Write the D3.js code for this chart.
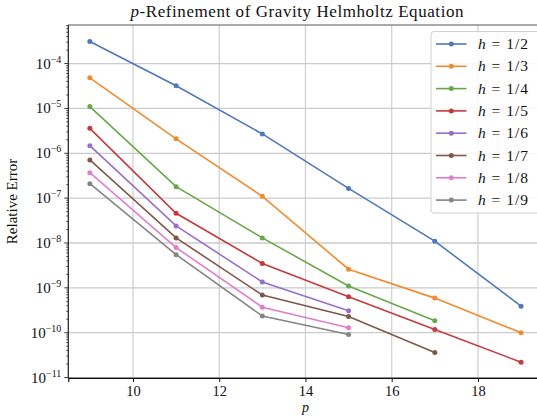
<!DOCTYPE html>
<html>
<head>
<meta charset="utf-8">
<script src="https://cdn.jsdelivr.net/npm/d3@7"></script>
<style>
  html, body { margin: 0; padding: 0; background: #fff; }
  svg { display: block; }
  text { font-family: "Liberation Serif", "DejaVu Serif", serif; fill: #111; }
</style>
</head>
<body>
<svg id="chart" width="537" height="417"></svg>
<script>
// Polynomial degree p for each refinement level
const pValues = [9, 11, 13, 15, 17, 19];

// Relative error per mesh size h
const errH2 = [3.1e-4, 3.2e-5, 2.7e-6, 1.65e-7, 1.1e-8, 3.9e-10];
const errH3 = [4.8e-5, 2.1e-6, 1.1e-7, 2.6e-9, 5.9e-10, 1.0e-10];
const errH4 = [1.1e-5, 1.8e-7, 1.3e-8, 1.1e-9, 1.85e-10];
const errH5 = [3.6e-6, 4.6e-8, 3.5e-9, 6.3e-10, 1.18e-10, 2.2e-11];
const errH6 = [1.48e-6, 2.4e-8, 1.35e-9, 3.1e-10];
const errH7 = [7.1e-7, 1.3e-8, 6.9e-10, 2.3e-10, 3.6e-11];
const errH8 = [3.7e-7, 7.9e-9, 3.7e-10, 1.29e-10];
const errH9 = [2.1e-7, 5.5e-9, 2.35e-10, 9.1e-11];

const seriesLabels = ["1/2", "1/3", "1/4", "1/5", "1/6", "1/7", "1/8", "1/9"];
const seriesColors = ["#4f78bd", "#f18b2f", "#67a84a", "#c43a3e", "#9470cc", "#80584b", "#df7fcb", "#858585"];
const seriesValues = [errH2, errH3, errH4, errH5, errH6, errH7, errH8, errH9];

const xTicks = [10, 12, 14, 16, 18];
const yExponents = [-11, -10, -9, -8, -7, -6, -5, -4];

const series = seriesLabels.map((lab, i) => ({
  label: lab,
  color: seriesColors[i],
  points: seriesValues[i].map((v, j) => ({ p: pValues[j], e: v }))
}));

const svg = d3.select("#chart");
const plotLeft = 68.3, plotRight = 542.6, plotTop = 25, plotBottom = 378;

const x = d3.scaleLinear().domain([8.5, 19.5]).range([plotLeft, plotRight]);
const y = d3.scaleLog().domain([Math.pow(10, -11.01), Math.pow(10, -3.14)]).range([plotBottom, plotTop]);

// grid
const grid = svg.append("g");
grid.selectAll("line.gx").data(xTicks).join("line")
  .attr("x1", d => x(d)).attr("x2", d => x(d))
  .attr("y1", plotTop).attr("y2", plotBottom)
  .attr("stroke", "#d2d2d2").attr("stroke-width", 1.3);
grid.selectAll("line.gy").data(yExponents).join("line")
  .attr("x1", plotLeft).attr("x2", plotRight)
  .attr("y1", d => y(Math.pow(10, d))).attr("y2", d => y(Math.pow(10, d)))
  .attr("stroke", "#cbcbcb").attr("stroke-width", 1.3);

// frame
svg.append("rect")
  .attr("x", plotLeft).attr("y", plotTop)
  .attr("width", plotRight - plotLeft).attr("height", plotBottom - plotTop)
  .attr("fill", "none").attr("stroke", "#444").attr("stroke-width", 0.9);

// data lines and markers
const line = d3.line().x(d => x(d.p)).y(d => y(d.e));
const sg = svg.append("g");
series.forEach(s => {
  sg.append("path").datum(s.points)
    .attr("d", line).attr("fill", "none")
    .attr("stroke", s.color).attr("stroke-width", 1.6);
  sg.selectAll(null).data(s.points).join("circle")
    .attr("cx", d => x(d.p)).attr("cy", d => y(d.e))
    .attr("r", 2.5).attr("fill", s.color);
});

// x axis
const xAxis = d3.axisBottom(x).tickValues(xTicks).tickSize(4).tickPadding(4).tickFormat(d3.format("d"));
const gx = svg.append("g").attr("transform", `translate(0,${plotBottom})`).call(xAxis);
gx.select(".domain").attr("stroke", "#111").attr("stroke-width", 1.2);
gx.selectAll(".tick line").attr("stroke", "#111");
gx.selectAll(".tick text").attr("font-size", 14.5).attr("font-family", "Liberation Serif").attr("fill", "#111");

// y axis: major ticks with power-of-ten labels, minor ticks in between
const gy = svg.append("g").attr("transform", `translate(${plotLeft},0)`);
gy.append("line").attr("x1", 0).attr("x2", 0).attr("y1", plotTop).attr("y2", plotBottom)
  .attr("stroke", "#222").attr("stroke-width", 1);
const minor = [];
for (let e = -12; e <= -3; e++) {
  for (let k = 2; k <= 9; k++) {
    const v = k * Math.pow(10, e);
    if (v >= y.domain()[0] && v <= y.domain()[1]) minor.push(v);
  }
}
gy.selectAll("line.minor").data(minor).join("line")
  .attr("x1", -2.2).attr("x2", 0)
  .attr("y1", d => y(d)).attr("y2", d => y(d))
  .attr("stroke", "#222").attr("stroke-width", 0.7);
gy.selectAll("line.major").data(yExponents).join("line")
  .attr("x1", -4).attr("x2", 0)
  .attr("y1", d => y(Math.pow(10, d))).attr("y2", d => y(Math.pow(10, d)))
  .attr("stroke", "#222").attr("stroke-width", 0.9);
const yl = gy.selectAll("text.yl").data(yExponents).join("text")
  .attr("text-anchor", "end")
  .attr("x", -7)
  .attr("y", d => y(Math.pow(10, d)) + 5)
  .attr("font-size", 15);
yl.append("tspan").text("10");
yl.append("tspan").attr("font-size", 10).attr("dy", -6).text(d => "\u2212" + Math.abs(d));

// axis titles
svg.append("text").attr("x", (plotLeft + plotRight) / 2).attr("y", 412)
  .attr("text-anchor", "middle").attr("font-size", 14).attr("font-style", "italic").text("p");
svg.append("text")
  .attr("transform", `translate(17,${(plotTop + plotBottom) / 2}) rotate(-90)`)
  .attr("text-anchor", "middle").attr("font-size", 15).text("Relative Error");

// title
const title = svg.append("text").attr("x", 297).attr("y", 17)
  .attr("text-anchor", "middle").attr("font-size", 17)
  .attr("textLength", 333).attr("lengthAdjust", "spacing");
title.append("tspan").attr("font-style", "italic").text("p");
title.append("tspan").text("-Refinement of Gravity Helmholtz Equation");

// legend
const lg = svg.append("g");
const lx = 431, ly = 31.5, lw = 110, rowH = 22.3;
lg.append("rect").attr("x", lx).attr("y", ly).attr("width", lw).attr("height", 181.5)
  .attr("rx", 3).attr("fill", "#fff").attr("fill-opacity", 0.82)
  .attr("stroke", "#d0d0d0").attr("stroke-width", 1);
series.forEach((s, i) => {
  const cy = 44 + i * rowH;
  lg.append("line").attr("x1", 436).attr("x2", 466.5).attr("y1", cy).attr("y2", cy)
    .attr("stroke", s.color).attr("stroke-width", 1.6);
  lg.append("circle").attr("cx", 451.3).attr("cy", cy).attr("r", 2.5).attr("fill", s.color);
  const t = lg.append("text").attr("x", 478).attr("y", cy + 5).attr("font-size", 15.5)
    .attr("textLength", 50).attr("lengthAdjust", "spacing");
  t.append("tspan").attr("font-style", "italic").text("h");
  t.append("tspan").text(" = " + s.label);
});
</script>
</body>
</html>
